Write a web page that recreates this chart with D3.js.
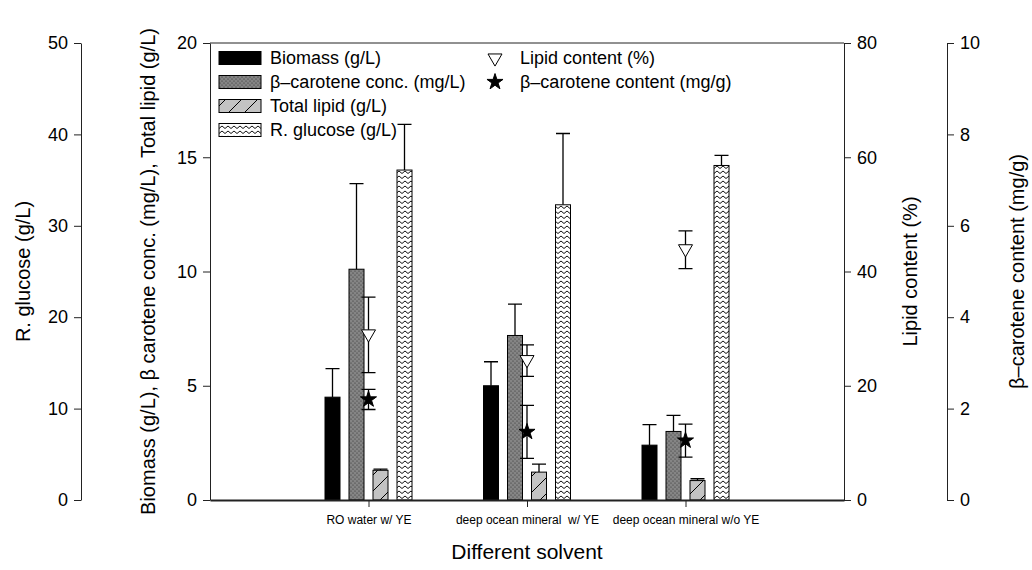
<!DOCTYPE html>
<html>
<head>
<meta charset="utf-8">
<script src="https://cdn.jsdelivr.net/npm/d3@7"></script>
<style>
  body { margin: 0; background: #fff; }
  text { font-family: "Liberation Sans", Arial, sans-serif; fill: #000; }
  .axis path, .axis line { stroke: #222; }
  .axis text { font-size: 18px; }
</style>
</head>
<body>
<div id="chart"></div>
<script>
// data
const categories = ['RO water w/ YE', 'deep ocean mineral  w/ YE', 'deep ocean mineral w/o YE'];
const biomass = [4.5, 5.0, 2.4];
const biomassErr = [1.25, 1.05, 0.9];
const caroteneConc = [10.1, 7.2, 3.0];
const caroteneConcErr = [3.75, 1.37, 0.7];
const totalLipid = [1.3, 1.22, 0.85];
const totalLipidErr = [0.05, 0.35, 0.08];
const glucose = [36.1, 32.3, 36.6];
const glucoseErr = [5.0, 7.8, 1.1];
const lipidContent = [28.9, 24.4, 43.8];
const lipidContentErr = [6.6, 2.75, 3.3];
const caroteneContent = [2.2, 1.49, 1.3];
const caroteneContentErr = [0.22, 0.58, 0.36];

const leftTicks = [0, 5, 10, 15, 20];
const glucoseTicks = [0, 10, 20, 30, 40, 50];
const lipidTicks = [0, 20, 40, 60, 80];
const caroteneTicks = [0, 2, 4, 6, 8, 10];

// layout
const width = 1032, height = 570;
const plot = {l: 210, r: 844, t: 43, b: 500};

const svg = d3.select('#chart').append('svg')
    .attr('width', width)
    .attr('height', height);

// scales
const scaleX = d3.scaleLinear().domain([0, 4]).range([plot.l, plot.r]);
const scaleY = d3.scaleLinear().domain([0, 20]).range([plot.b, plot.t]);
const scaleGlu = d3.scaleLinear().domain([0, 50]).range([plot.b, plot.t]);
const scaleLip = d3.scaleLinear().domain([0, 80]).range([plot.b, plot.t]);
const scaleCar = d3.scaleLinear().domain([0, 10]).range([plot.b, plot.t]);

// patterns
const defs = svg.append('defs');
const dots = defs.append('pattern').attr('id', 'dots')
    .attr('patternUnits', 'userSpaceOnUse').attr('width', 4).attr('height', 4);
dots.append('rect').attr('width', 4).attr('height', 4).attr('fill', '#858585');
dots.append('circle').attr('cx', 1).attr('cy', 1).attr('r', 0.6).attr('fill', '#2a2a2a');
dots.append('circle').attr('cx', 3).attr('cy', 3).attr('r', 0.6).attr('fill', '#2a2a2a');

const diag = defs.append('pattern').attr('id', 'diag')
    .attr('patternUnits', 'userSpaceOnUse').attr('width', 16).attr('height', 16);
diag.append('rect').attr('width', 16).attr('height', 16).attr('fill', '#c3c3c3');
diag.append('path').attr('d', 'M0,16 L16,0 M-4,4 L4,-4 M12,20 L20,12')
    .attr('stroke', '#000').attr('stroke-width', 1);

const zig = defs.append('pattern').attr('id', 'zig')
    .attr('patternUnits', 'userSpaceOnUse').attr('width', 6).attr('height', 5);
zig.append('rect').attr('width', 6).attr('height', 5).attr('fill', '#fff');
zig.append('path').attr('d', 'M0,3.5 L3,1 L6,3.5')
    .attr('fill', 'none').attr('stroke', '#111').attr('stroke-width', 1);

// series definitions
const series = [
    {key: 'Biomass (g/L)', vals: biomass, errs: biomassErr, fill: '#000', scale: scaleY},
    {key: 'β–carotene conc. (mg/L)', vals: caroteneConc, errs: caroteneConcErr, fill: 'url(#dots)', scale: scaleY},
    {key: 'Total lipid (g/L)', vals: totalLipid, errs: totalLipidErr, fill: 'url(#diag)', scale: scaleY},
    {key: 'R. glucose (g/L)', vals: glucose, errs: glucoseErr, fill: 'url(#zig)', scale: scaleGlu}
];

// band scale for bars inside each group (pixel offsets from category center)
const scaleSeries = d3.scaleBand()
    .domain(series.map(d => d.key))
    .range([-48, 48])
    .paddingInner(0.375)
    .paddingOuter(0.1875);
const bw = scaleSeries.bandwidth();

// frame top line
svg.append('line')
    .attr('x1', plot.l).attr('x2', plot.r)
    .attr('y1', plot.t).attr('y2', plot.t)
    .attr('stroke', '#222');

// bars
series.forEach(s => {
    const g = svg.append('g').attr('class', 'bars');
    const data = categories.map((c, i) => ({i, v: s.vals[i], e: s.errs[i]}));
    // error whiskers (upward only)
    g.selectAll('.err').data(data).enter().append('path')
        .attr('class', 'err')
        .attr('d', d => {
            const cx = scaleX(d.i + 1) + scaleSeries(s.key) + bw / 2;
            const y0 = s.scale(d.v), y1 = s.scale(d.v + d.e);
            return `M${cx},${y0}V${y1}M${cx - 7},${y1}H${cx + 7}`;
        })
        .attr('stroke', '#000').attr('stroke-width', 1.3).attr('fill', 'none');
    g.selectAll('.bin').data(data).enter().append('rect')
        .attr('class', 'bin')
        .attr('x', d => scaleX(d.i + 1) + scaleSeries(s.key))
        .attr('y', d => s.scale(d.v))
        .attr('width', bw)
        .attr('height', d => plot.b - s.scale(d.v))
        .attr('fill', s.fill)
        .attr('stroke', '#000').attr('stroke-width', 1);
});

// markers with symmetric error bars
const markers = [
    {key: 'Lipid content (%)', vals: lipidContent, errs: lipidContentErr, scale: scaleLip,
     sym: d3.symbol(d3.symbolTriangle, 85), rot: 180, fill: '#fff'},
    {key: 'β–carotene content (mg/g)', vals: caroteneContent, errs: caroteneContentErr, scale: scaleCar,
     sym: d3.symbol(d3.symbolStar, 80), rot: 0, fill: '#000'}
];

markers.forEach(m => {
    const g = svg.append('g').attr('class', 'markers');
    const data = categories.map((c, i) => ({i, v: m.vals[i], e: m.errs[i]}));
    g.selectAll('.err').data(data).enter().append('path')
        .attr('class', 'err')
        .attr('d', d => {
            const cx = scaleX(d.i + 1);
            const ylo = m.scale(d.v - d.e), yhi = m.scale(d.v + d.e);
            return `M${cx},${ylo}V${yhi}M${cx - 7},${yhi}H${cx + 7}M${cx - 7},${ylo}H${cx + 7}`;
        })
        .attr('stroke', '#000').attr('stroke-width', 1.3).attr('fill', 'none');
    g.selectAll('.pt').data(data).enter().append('path')
        .attr('class', 'pt')
        .attr('d', m.sym)
        .attr('transform', d => `translate(${scaleX(d.i + 1)},${m.scale(d.v) + (m.rot ? -1 : 0)}) rotate(${m.rot})`)
        .attr('fill', m.fill)
        .attr('stroke', '#000').attr('stroke-width', 1);
});

// axes
svg.append('g').attr('class', 'axis')
    .attr('transform', `translate(${plot.l},0)`)
    .call(d3.axisLeft(scaleY).tickValues(leftTicks).tickSize(7).tickPadding(6).tickSizeOuter(0));

svg.append('g').attr('class', 'axis')
    .attr('transform', 'translate(81,0)')
    .call(d3.axisLeft(scaleGlu).tickValues(glucoseTicks).tickSize(7).tickPadding(6).tickSizeOuter(0));

svg.append('g').attr('class', 'axis')
    .attr('transform', `translate(${plot.r},0)`)
    .call(d3.axisRight(scaleLip).tickValues(lipidTicks).tickSize(7).tickPadding(6).tickSizeOuter(0));

svg.append('g').attr('class', 'axis')
    .attr('transform', 'translate(947,0)')
    .call(d3.axisRight(scaleCar).tickValues(caroteneTicks).tickSize(7).tickPadding(6).tickSizeOuter(0));

// x axis
const axisX = svg.append('g').attr('class', 'axis axis-x')
    .attr('transform', `translate(0,${plot.b})`)
    .call(d3.axisBottom(scaleX).tickValues([1, 2, 3])
        .tickFormat(d => categories[d - 1]).tickSize(7).tickPadding(8).tickSizeOuter(0));
axisX.select('.domain').attr('stroke', '#000').attr('stroke-width', 2);
axisX.selectAll('text')
    .style('font-size', '12px')
    .style('white-space', 'pre')
    .attr('xml:space', 'preserve');

// axis titles
const titles = [
    {t: 'R. glucose (g/L)', x: 23},
    {t: 'Biomass (g/L), β carotene conc. (mg/L), Total lipid (g/L)', x: 148},
    {t: 'Lipid content (%)', x: 910},
    {t: 'β–carotene content (mg/g)', x: 1017}
];
svg.selectAll('.ytitle').data(titles).enter().append('text')
    .attr('class', 'ytitle')
    .attr('transform', d => `translate(${d.x},${(plot.t + plot.b) / 2}) rotate(-90)`)
    .attr('text-anchor', 'middle')
    .attr('dy', '0.35em')
    .style('font-size', '20px')
    .text(d => d.t);

svg.append('text')
    .attr('x', scaleX(2)).attr('y', 559)
    .attr('text-anchor', 'middle')
    .style('font-size', '21px')
    .text('Different solvent');

// legend
const legend = svg.append('g').attr('class', 'legend');
const legRows = legend.selectAll('.leg').data(series).enter().append('g')
    .attr('class', 'leg')
    .attr('transform', (d, i) => `translate(219,${58 + i * 24})`);
legRows.append('rect')
    .attr('x', 0).attr('y', -6.5).attr('width', 42).attr('height', 13)
    .attr('fill', d => d.fill).attr('stroke', '#000');
legRows.append('text')
    .attr('x', 51).attr('dy', '0.35em')
    .style('font-size', '18px')
    .text(d => d.key);

const legMarks = legend.selectAll('.legm').data(markers).enter().append('g')
    .attr('class', 'legm')
    .attr('transform', (d, i) => `translate(495,${58 + i * 24})`);
legMarks.append('path')
    .attr('d', d => d.sym())
    .attr('transform', d => `rotate(${d.rot})`)
    .attr('fill', d => d.fill).attr('stroke', '#000');
legMarks.append('text')
    .attr('x', 25).attr('dy', '0.35em')
    .style('font-size', '18px')
    .text(d => d.key);
</script>
</body>
</html>
